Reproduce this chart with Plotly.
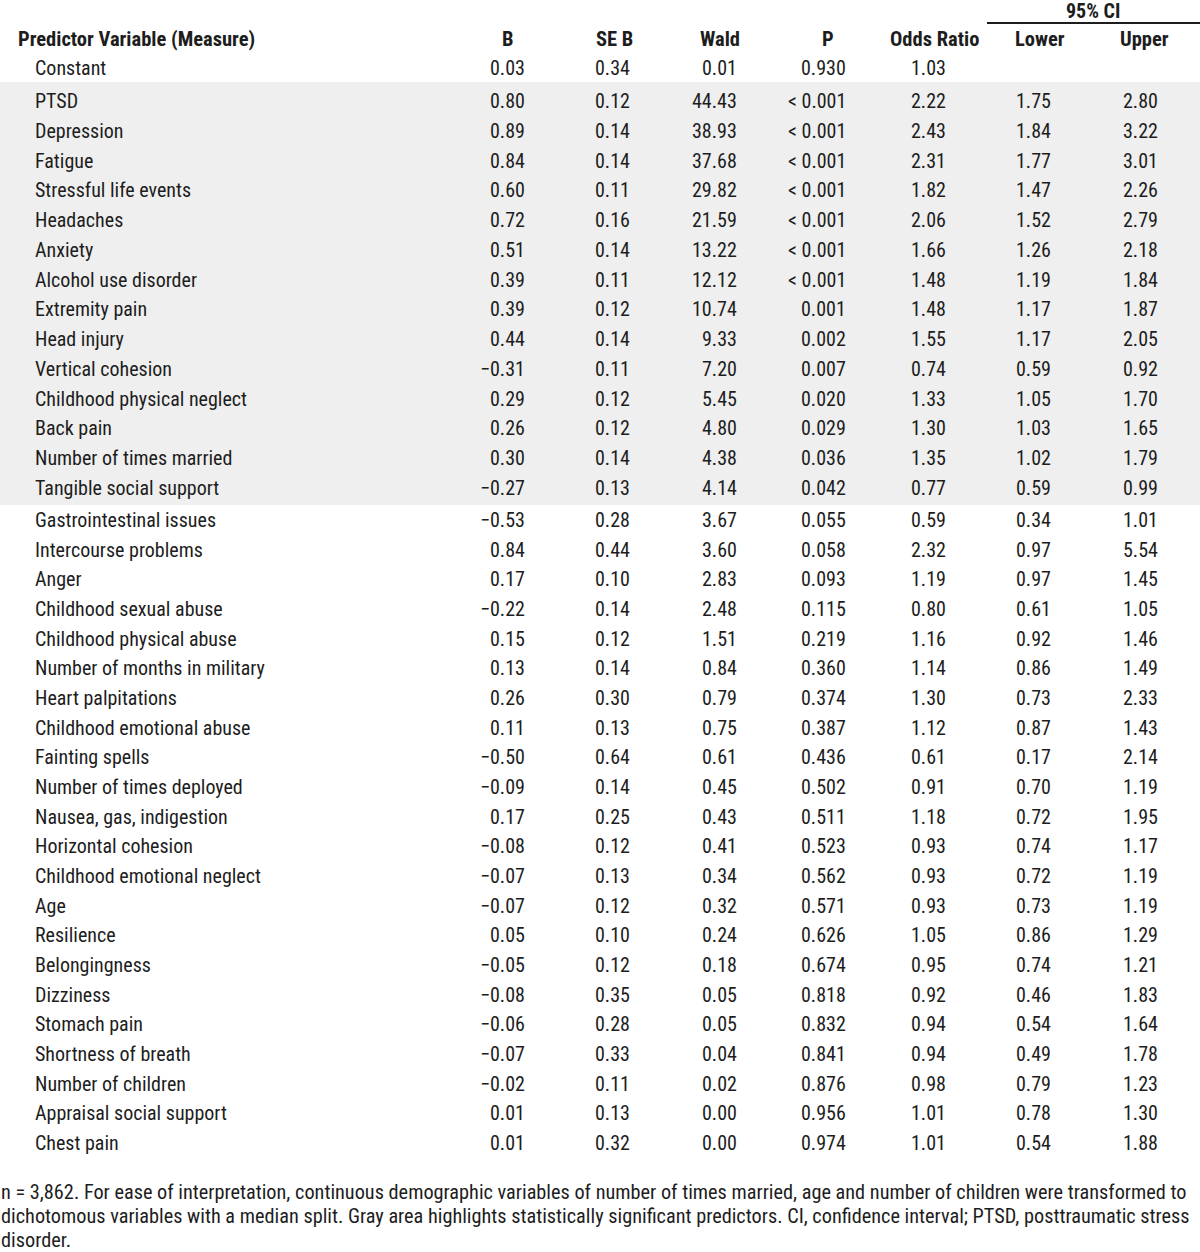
import plotly.graph_objects as go

# ---------------- data ----------------
predictors = [
    "PTSD", "Depression", "Fatigue", "Stressful life events", "Headaches", "Anxiety",
    "Alcohol use disorder", "Extremity pain", "Head injury", "Vertical cohesion",
    "Childhood physical neglect", "Back pain", "Number of times married",
    "Tangible social support",
    "Gastrointestinal issues", "Intercourse problems", "Anger", "Childhood sexual abuse",
    "Childhood physical abuse", "Number of months in military", "Heart palpitations",
    "Childhood emotional abuse", "Fainting spells", "Number of times deployed",
    "Nausea, gas, indigestion", "Horizontal cohesion", "Childhood emotional neglect",
    "Age", "Resilience", "Belongingness", "Dizziness", "Stomach pain",
    "Shortness of breath", "Number of children", "Appraisal social support", "Chest pain",
]
n_significant = 14

b_values = [0.80, 0.89, 0.84, 0.60, 0.72, 0.51, 0.39, 0.39, 0.44, -0.31, 0.29, 0.26, 0.30, -0.27,
            -0.53, 0.84, 0.17, -0.22, 0.15, 0.13, 0.26, 0.11, -0.50, -0.09, 0.17, -0.08, -0.07,
            -0.07, 0.05, -0.05, -0.08, -0.06, -0.07, -0.02, 0.01, 0.01]
se_values = [0.12, 0.14, 0.14, 0.11, 0.16, 0.14, 0.11, 0.12, 0.14, 0.11, 0.12, 0.12, 0.14, 0.13,
             0.28, 0.44, 0.10, 0.14, 0.12, 0.14, 0.30, 0.13, 0.64, 0.14, 0.25, 0.12, 0.13,
             0.12, 0.10, 0.12, 0.35, 0.28, 0.33, 0.11, 0.13, 0.32]
wald_values = [44.43, 38.93, 37.68, 29.82, 21.59, 13.22, 12.12, 10.74, 9.33, 7.20, 5.45, 4.80, 4.38, 4.14,
               3.67, 3.60, 2.83, 2.48, 1.51, 0.84, 0.79, 0.75, 0.61, 0.45, 0.43, 0.41, 0.34,
               0.32, 0.24, 0.18, 0.05, 0.05, 0.04, 0.02, 0.00, 0.00]
p_values = ["< 0.001"] * 7 + ["0.001", "0.002", "0.007", "0.020", "0.029", "0.036", "0.042",
            "0.055", "0.058", "0.093", "0.115", "0.219", "0.360", "0.374", "0.387", "0.436",
            "0.502", "0.511", "0.523", "0.562", "0.571", "0.626", "0.674", "0.818", "0.832",
            "0.841", "0.876", "0.956", "0.974"]
odds_ratios = [2.22, 2.43, 2.31, 1.82, 2.06, 1.66, 1.48, 1.48, 1.55, 0.74, 1.33, 1.30, 1.35, 0.77,
               0.59, 2.32, 1.19, 0.80, 1.16, 1.14, 1.30, 1.12, 0.61, 0.91, 1.18, 0.93, 0.93,
               0.93, 1.05, 0.95, 0.92, 0.94, 0.94, 0.98, 1.01, 1.01]
ci_lower = [1.75, 1.84, 1.77, 1.47, 1.52, 1.26, 1.19, 1.17, 1.17, 0.59, 1.05, 1.03, 1.02, 0.59,
            0.34, 0.97, 0.97, 0.61, 0.92, 0.86, 0.73, 0.87, 0.17, 0.70, 0.72, 0.74, 0.72,
            0.73, 0.86, 0.74, 0.46, 0.54, 0.49, 0.79, 0.78, 0.54]
ci_upper = [2.80, 3.22, 3.01, 2.26, 2.79, 2.18, 1.84, 1.87, 2.05, 0.92, 1.70, 1.65, 1.79, 0.99,
            1.01, 5.54, 1.45, 1.05, 1.46, 1.49, 2.33, 1.43, 2.14, 1.19, 1.95, 1.17, 1.19,
            1.19, 1.29, 1.21, 1.83, 1.64, 1.78, 1.23, 1.30, 1.88]

constant_row = {"B": 0.03, "SE B": 0.34, "Wald": 0.01, "P": "0.930", "Odds Ratio": 1.03}

column_headers = ["B", "SE B", "Wald", "P", "Odds Ratio", "Lower", "Upper"]
footnote_lines = [
    "n = 3,862. For ease of interpretation, continuous demographic variables of number of times married, age and number of children were transformed to",
    "dichotomous variables with a median split. Gray area highlights statistically significant predictors. CI, confidence interval; PTSD, posttraumatic stress",
    "disorder.",
]

# ---------------- layout ----------------
W, H = 1200, 1252
FONT = "Roboto Condensed, Liberation Sans Narrow, Arial Narrow, sans-serif"
TXT = "#1d1d1d"
FS = 20

col_right = [526, 631, 738, 847, 947, 1052, 1159]   # right edges of numeric columns
col_center = [508, 614, 720, 828, 934, 1040, 1144]  # header centres
name_x = 34

y_header = 39
y_const = 68
y_first = 101
row_step = 29.75
y_gap_start = 520


def row_y(i):
    if i < n_significant:
        return y_first + i * row_step
    return y_gap_start + (i - n_significant) * 29.67


def fmt(v):
    s = f"{v:.2f}"
    return s.replace("-", "\u2212")


annotations = []


def txt(x, y, s, anchor="right", bold=False, size=FS):
    annotations.append(dict(
        x=x, y=y, xref="x", yref="y", text=(f"<b>{s}</b>" if bold else s),
        showarrow=False, xanchor=anchor, yanchor="middle", borderpad=0,
        font=dict(family=FONT, size=size, color=TXT),
    ))


# headers
txt(17, y_header, "Predictor Variable (Measure)", anchor="left", bold=True, size=20.5)
for h, cx in zip(column_headers, col_center):
    txt(cx, y_header, h, anchor="center", bold=True, size=20.5)
txt(1093, 11, "95% CI", anchor="center", bold=True, size=20)

# constant row
txt(name_x, y_const, "Constant", anchor="left")
for key, xr in zip(["B", "SE B", "Wald", "P", "Odds Ratio"], col_right):
    v = constant_row[key]
    txt(xr, y_const, v if isinstance(v, str) else fmt(v))

# body rows
for i, name in enumerate(predictors):
    y = row_y(i)
    txt(name_x, y, name, anchor="left")
    vals = [fmt(b_values[i]), fmt(se_values[i]), fmt(wald_values[i]), p_values[i],
            fmt(odds_ratios[i]), fmt(ci_lower[i]), fmt(ci_upper[i])]
    for s, xr in zip(vals, col_right):
        txt(xr, y, s)

# footnote
for k, line in enumerate(footnote_lines):
    txt(0, 1192 + k * 24, line, anchor="left", size=20.3)

shapes = [
    dict(type="rect", xref="x", yref="y", x0=0, x1=W, y0=82, y1=505,
         fillcolor="#efefef", line=dict(width=0), layer="below"),
    dict(type="line", xref="x", yref="y", x0=987, x1=W, y0=23, y1=23,
         line=dict(color=TXT, width=2)),
]

fig = go.Figure()
fig.add_trace(go.Scatter(x=[0, W], y=[0, H], mode="markers", marker=dict(opacity=0),
                         hoverinfo="skip", showlegend=False))
fig.update_layout(
    width=W, height=H, margin=dict(l=0, r=0, t=0, b=0),
    paper_bgcolor="white", plot_bgcolor="white",
    xaxis=dict(range=[0, W], visible=False, fixedrange=True),
    yaxis=dict(range=[H, 0], visible=False, fixedrange=True),
    annotations=annotations, shapes=shapes, showlegend=False,
)
fig.write_html(
    "out.html",
    config={"displayModeBar": False},
    post_script="document.body.style.margin='0';document.body.style.overflow='hidden';",
)
